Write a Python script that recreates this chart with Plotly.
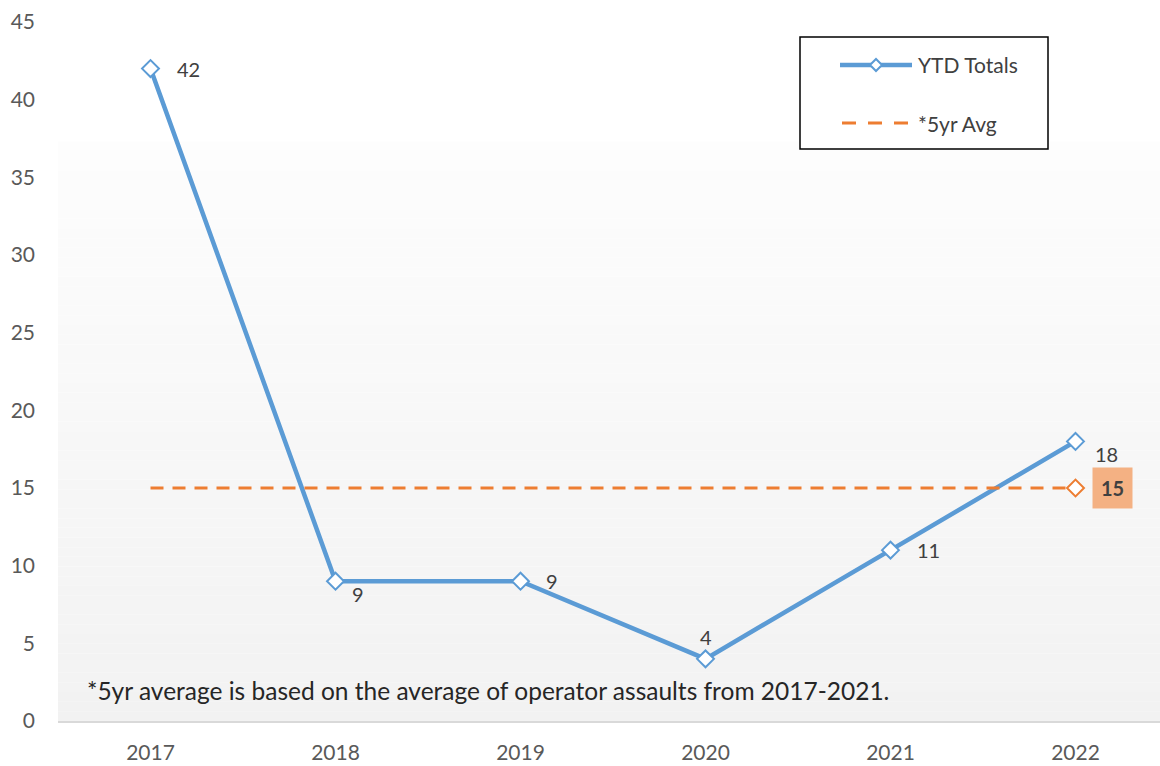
import plotly.graph_objects as go

# Yearly totals and the five-year average
years = [2017, 2018, 2019, 2020, 2021, 2022]
ytd_totals = [42, 9, 9, 4, 11, 18]
avg_value = 15
avg_years = [2017, 2022]
y_ticks = [0, 5, 10, 15, 20, 25, 30, 35, 40, 45]
series_names = ["YTD Totals", "*5yr Avg"]
footnote = "*5yr average is based on the average of operator assaults from 2017-2021."

BLUE = "#5b9bd5"
ORANGE = "#ed7d31"
LABEL = "#404040"
AXIS_TXT = "#595959"
FONT = "Lato, Open Sans, sans-serif"

# plot-area geometry in pixels (used to place the legend box)
W, H = 1160, 766
ML, MT, MB = 58, 22, 45


def px_x(px):
    return (px - ML) / (W - ML)


def px_y(py):
    return (H - MB - py) / (H - MT - MB)


fig = go.Figure()

fig.add_trace(go.Scatter(
    x=years, y=ytd_totals, name=series_names[0], mode="lines+markers",
    line=dict(color=BLUE, width=4.5),
    marker=dict(symbol="diamond", size=13, color="white",
                line=dict(color=BLUE, width=2)),
))

fig.add_trace(go.Scatter(
    x=avg_years, y=[avg_value] * len(avg_years), name=series_names[1], mode="lines",
    line=dict(color=ORANGE, width=3, dash="13px,9px"),
))
# marker on the final year of the average line
fig.add_trace(go.Scatter(
    x=[avg_years[-1]], y=[avg_value], mode="markers",
    marker=dict(symbol="diamond", size=13, color="white",
                line=dict(color=ORANGE, width=2)),
))

# Data labels for the yearly totals
offsets = {2017: (38, 0), 2018: (22, -13), 2019: (31, 0), 2020: (0, 22),
           2021: (38, 0), 2022: (31, -13)}
for yr, val in zip(years, ytd_totals):
    dx, dy = offsets[yr]
    fig.add_annotation(x=yr, y=val, text=str(val), showarrow=False,
                       xshift=dx, yshift=dy,
                       font=dict(family=FONT, size=20, color=LABEL))

# Highlighted label for the average
fig.add_annotation(x=avg_years[-1], y=avg_value, text=f"<b>{avg_value}</b>",
                   showarrow=False, xshift=37, yshift=0, bgcolor="#f4b183",
                   borderpad=8, font=dict(family=FONT, size=20, color=LABEL))

fig.add_annotation(x=px_x(85), xref="paper", y=1.95, yref="y", xanchor="left",
                   yanchor="middle", text=footnote, showarrow=False,
                   font=dict(family=FONT, size=24.5, color="#262626"))

shapes = []

# Soft vertical gradient behind the plot
top, steps = 37.3, 60
for i in range(steps):
    y0 = top * i / steps
    y1 = top * (i + 1) / steps
    t = i / (steps - 1)
    g = round(242 + (253 - 242) * t)
    shapes.append(dict(type="rect", xref="paper", yref="y", x0=0, x1=1.01,
                       y0=y0, y1=y1, fillcolor=f"rgb({g},{g},{g})",
                       line=dict(width=0), layer="below"))

# Legend box with its two entries
shapes.append(dict(type="rect", xref="paper", yref="paper",
                   x0=px_x(800), x1=px_x(1048), y0=px_y(149), y1=px_y(37),
                   fillcolor="white", line=dict(color="black", width=1.5),
                   layer="above"))
shapes.append(dict(type="line", xref="paper", yref="paper",
                   x0=px_x(840), x1=px_x(912), y0=px_y(65), y1=px_y(65),
                   line=dict(color=BLUE, width=4.5)))
shapes.append(dict(type="path", xref="paper", yref="paper",
                   xsizemode="pixel", ysizemode="pixel",
                   xanchor=px_x(876), yanchor=px_y(65),
                   path="M -6 0 L 0 6 L 6 0 L 0 -6 Z",
                   fillcolor="white", line=dict(color=BLUE, width=2)))
shapes.append(dict(type="line", xref="paper", yref="paper",
                   x0=px_x(842), x1=px_x(912), y0=px_y(123), y1=px_y(123),
                   line=dict(color=ORANGE, width=3, dash="14px,12px")))
for name, py in zip(series_names, [65, 123]):
    fig.add_annotation(x=px_x(916), y=px_y(py), xref="paper", yref="paper",
                       xanchor="left", yanchor="middle", text=name,
                       showarrow=False,
                       font=dict(family=FONT, size=21, color=LABEL))

fig.update_layout(
    width=W, height=H,
    margin=dict(l=ML, r=0, t=MT, b=MB),
    paper_bgcolor="white", plot_bgcolor="white",
    font=dict(family=FONT, size=21, color=AXIS_TXT),
    showlegend=False,
    shapes=shapes,
    xaxis=dict(range=[2016.5, 2016.5 + (W - ML) / 185], tickvals=years,
               ticktext=[str(y) for y in years], showgrid=False, zeroline=False,
               showline=True, linecolor="#d9d9d9", linewidth=1.5, ticks="",
               ticklabelstandoff=12,
               tickfont=dict(size=21, color=AXIS_TXT)),
    yaxis=dict(range=[0, 45], tickvals=y_ticks, showgrid=False, zeroline=False,
               showline=False, ticks="", ticklabelstandoff=22,
               tickfont=dict(size=21, color=AXIS_TXT)),
)

fig.write_html("out.html")
